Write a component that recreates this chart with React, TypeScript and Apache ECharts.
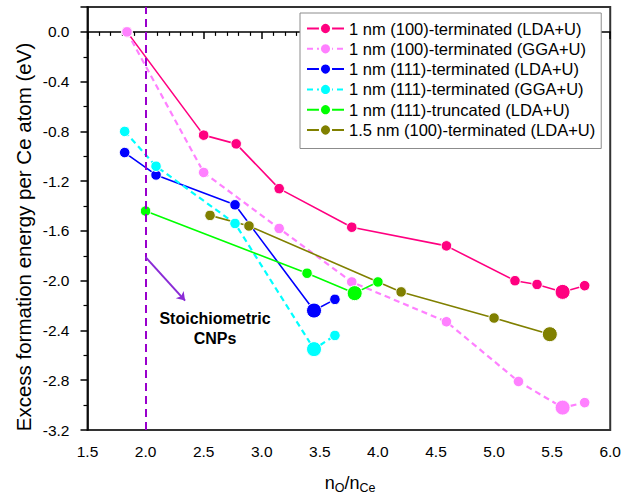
import React, { useEffect, useRef } from 'react';
import * as echarts from 'echarts';

const FONT = '"Liberation Sans", Arial, sans-serif';

const seriesNames = [
  '1 nm (100)-terminated (LDA+U)',
  '1 nm (100)-terminated (GGA+U)',
  '1 nm (111)-terminated (LDA+U)',
  '1 nm (111)-terminated (GGA+U)',
  '1 nm (111)-truncated (LDA+U)',
  '1.5 nm (100)-terminated (LDA+U)',
];

const lda100X = [1.84, 2.5, 2.78, 3.15, 3.775, 4.59, 5.18, 5.37, 5.59, 5.78];
const lda100Y = [0.0, -0.83, -0.9, -1.26, -1.57, -1.72, -2.0, -2.03, -2.09, -2.04];

const gga100X = [1.84, 2.5, 3.15, 3.775, 4.59, 5.21, 5.59, 5.78];
const gga100Y = [0.0, -1.13, -1.58, -2.01, -2.33, -2.81, -3.02, -2.98];

const lda111X = [1.82, 2.09, 2.77, 3.45, 3.63];
const lda111Y = [-0.97, -1.15, -1.39, -2.24, -2.15];

const gga111X = [1.82, 2.09, 2.77, 3.45, 3.63];
const gga111Y = [-0.8, -1.08, -1.54, -2.55, -2.44];

const trunc111X = [2.0, 3.39, 3.8, 4.0];
const trunc111Y = [-1.44, -1.94, -2.1, -2.01];

const lda15X = [2.555, 2.89, 4.2, 5.0, 5.48];
const lda15Y = [-1.475, -1.56, -2.09, -2.3, -2.43];

const stoichX = 2.0;
const arrowStart = [2.0, -1.81];
const arrowEnd = [2.34, -2.16];

const xTickMin = 1.5;
const xTickMax = 6.0;
const xTickStep = 0.5;
const yTickMin = -3.2;
const yTickMax = 0.2;
const yTickStep = 0.4;

const colors = ['#FF0080', '#FF80FF', '#0000FF', '#00FFFF', '#00FF00', '#808000'];
const dashed = [false, true, false, true, false, false];

function makeSeries(i: number, xs: number[], ys: number[]) {
  const data = xs.map((x, k) => [x, ys[k]]);
  const minY = Math.min(...ys);
  const color = colors[i];
  return {
    type: 'line',
    name: seriesNames[i],
    data,
    symbol: 'circle',
    symbolSize: (v: number[]) => (v[1] === minY ? 15 : 10.5),
    itemStyle: { color, borderColor: '#fff', borderWidth: 1 },
    lineStyle: { color, width: dashed[i] ? 2.2 : 1.6, type: dashed[i] ? [6, 4] : 'solid' },
    emphasis: { disabled: true },
    z: 3,
  };
}

export default function App() {
  const ref = useRef<HTMLDivElement>(null);
  useEffect(() => {
    const chart = echarts.init(ref.current!, null, { renderer: 'svg' });
    const option: any = {
      animation: false,
      backgroundColor: '#fff',
      textStyle: { fontFamily: FONT },
      grid: {
        left: 87.5,
        right: 13,
        top: 7,
        bottom: 68,
        show: true,
        borderColor: '#333',
        borderWidth: 2,
      },
      xAxis: {
        type: 'value',
        min: xTickMin,
        max: xTickMax,
        interval: xTickStep,
        axisLine: { lineStyle: { color: '#000', width: 1.5 } },
        axisTick: { inside: false, length: 7, lineStyle: { color: '#000', width: 1.5 } },
        minorTick: { show: true, splitNumber: 5, length: 4, lineStyle: { color: '#000', width: 1.2 } },
        splitLine: { show: false },
        axisLabel: {
          margin: 13,
          fontSize: 15.5,
          color: '#000',
          fontFamily: FONT,
          formatter: (v: number) => v.toFixed(1),
        },
      },
      yAxis: {
        type: 'value',
        min: yTickMin,
        max: yTickMax,
        interval: yTickStep,
        axisLine: { lineStyle: { color: '#000', width: 1.5 } },
        axisTick: { inside: false, length: 7, lineStyle: { color: '#000', width: 1.5 } },
        minorTick: { show: true, splitNumber: 2, length: 4, lineStyle: { color: '#000', width: 1.2 } },
        splitLine: { show: false },
        axisLabel: {
          margin: 18,
          fontSize: 15.5,
          color: '#000',
          fontFamily: FONT,
          showMaxLabel: false,
          formatter: (v: number) => (Math.abs(v) < 1e-9 ? '0.0' : v.toFixed(1)),
        },
      },
      legend: {
        data: seriesNames,
        orient: 'vertical',
        left: 300,
        top: 13,
        itemWidth: 37,
        itemHeight: 14,
        itemGap: 3.3,
        padding: [7, 6, 10, 6],
        borderColor: '#8c8c8c',
        borderWidth: 1,
        backgroundColor: '#fff',
        selectedMode: false,
        textStyle: { fontSize: 16.5, color: '#000', fontFamily: FONT },
      },
      graphic: [
        {
          type: 'text',
          x: 23,
          y: 237,
          rotation: Math.PI / 2,
          style: {
            text: 'Excess formation energy per Ce atom (eV)',
            fontSize: 20.5,
            fontFamily: FONT,
            fill: '#000',
            align: 'center',
            verticalAlign: 'middle',
          },
        },
        {
          type: 'text',
          x: 350,
          y: 484,
          style: {
            text: '{n|n}{s|O}{n|/n}{s|Ce}',
            align: 'center',
            verticalAlign: 'middle',
            rich: {
              n: { fontSize: 18, fontFamily: FONT, fill: '#000', lineHeight: 20, verticalAlign: 'top' },
              s: { fontSize: 12.5, fontFamily: FONT, fill: '#000', lineHeight: 14, padding: [12, 0, 0, 0], verticalAlign: 'bottom' },
            },
          },
        },
        {
          type: 'text',
          x: 215,
          y: 328,
          style: {
            text: 'Stoichiometric\nCNPs',
            fontSize: 16,
            fontWeight: 'bold',
            fontFamily: FONT,
            fill: '#000',
            align: 'center',
            verticalAlign: 'middle',
            lineHeight: 20,
          },
        },
      ],
      series: [
        {
          type: 'line',
          data: [],
          silent: true,
          z: 1,
          markLine: {
            silent: true,
            animation: false,
            symbol: ['none', 'none'],
            label: { show: false },
            emphasis: { disabled: true },
            data: [
              {
                xAxis: stoichX,
                lineStyle: { color: '#9900CC', width: 2, type: [8, 5] },
              },
              [
                { coord: arrowStart, symbol: 'none', lineStyle: { color: '#8A2BD6', width: 2, type: 'solid' } },
                { coord: arrowEnd, symbol: 'arrow', symbolSize: 8 },
              ],
            ],
          },
        },
        makeSeries(0, lda100X, lda100Y),
        makeSeries(1, gga100X, gga100Y),
        makeSeries(2, lda111X, lda111Y),
        makeSeries(3, gga111X, gga111Y),
        makeSeries(4, trunc111X, trunc111Y),
        makeSeries(5, lda15X, lda15Y),
      ],
    };
    chart.setOption(option);
    return () => chart.dispose();
  }, []);
  return <div ref={ref} style={{ position: 'fixed', left: 0, top: 0, width: 624, height: 498 }} />;
}
